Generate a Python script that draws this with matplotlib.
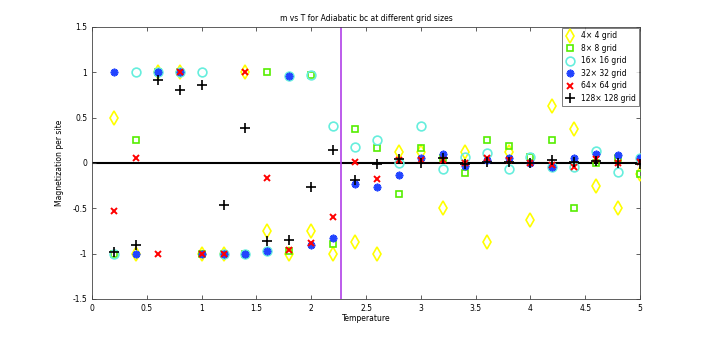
import numpy as np
import matplotlib
matplotlib.use("Agg")
from matplotlib import pyplot as plt

# temperatures 0.2 .. 5.0
T = [0.2, 0.4, 0.6, 0.8, 1.0, 1.2, 1.4, 1.6, 1.8, 2.0, 2.2, 2.4, 2.6,
     2.8, 3.0, 3.2, 3.4, 3.6, 3.8, 4.0, 4.2, 4.4, 4.6, 4.8, 5.0]

m4 = [0.5, -1, 1, 1, -1, -1, 1, -0.75, -1, -0.75, -1, -0.875, -1,
      0.125, 0.125, -0.5, 0.125, -0.875, 0.125, -0.625, 0.625, 0.375, -0.25, -0.5, -0.125]
m8 = [-1, 0.25, 1, 1, -1, -1, -1, 1, -0.97, 0.97, -0.89, 0.375, 0.16,
      -0.34, 0.16, 0.06, -0.11, 0.25, 0.19, 0.07, 0.25, -0.5, 0.0, 0.05, -0.12]
m16 = [-1, 1, 1, 1, 1, -1, -1, -0.97, 0.96, 0.97, 0.41, 0.18, 0.25,
       0.0, 0.41, -0.07, 0.07, 0.11, -0.07, 0.07, -0.04, -0.05, 0.13, -0.1, 0.05]
m32 = [1, -1, 1, 1, -1, -1, -1, -0.97, 0.96, -0.91, -0.83, -0.23, -0.26,
       -0.135, 0.06, 0.1, -0.03, 0.03, 0.05, 0.0, -0.05, 0.05, 0.1, 0.085, 0.05]
m64 = [-0.53, 0.06, -1, 1, -1, -1, 1, -0.17, -0.96, -0.88, -0.6, 0.01, -0.18,
       0.03, 0.03, 0.03, 0.0, 0.05, 0.03, 0.0, -0.02, -0.04, 0.04, 0.0, 0.01]
m128 = [-0.98, -0.9, 0.91, 0.8, 0.86, -0.46, 0.38, -0.86, -0.85, -0.26, 0.14, -0.19, -0.01,
        0.04, 0.0, 0.05, -0.01, 0.01, 0.01, 0.0, 0.03, 0.01, 0.02, 0.0, -0.01]

Tc = 2.269

fig = plt.figure(figsize=(7.08, 3.38), dpi=100)
ax = fig.add_axes([0.130, 0.1154, 0.774, 0.805])

ax.plot([0, 5], [0, 0], color="black", lw=1.5, zorder=1)
ax.plot([Tc, Tc], [-1.5, 1.5], color="#b040e8", lw=1.2, zorder=1)

ax.plot(T, m4, "d", mfc="none", mec="#ffff00", mew=1.2, ms=7, label=u"4\u00d7 4 grid", zorder=3)
ax.plot(T, m8, "s", mfc="none", mec="#55ee00", mew=1.2, ms=4.8, label=u"8\u00d7 8 grid", zorder=3)
ax.plot(T, m16, "o", mfc="none", mec="#66eedd", mew=1.2, ms=6.3, label=u"16\u00d7 16 grid", zorder=3)
# matlab style asterisk
ax.plot(T, m32, marker=(8, 2, 0), ls="none", color="#2244ff", mew=1.3, ms=5.5,
        label=u"32\u00d7 32 grid", zorder=4)
ax.plot(T, m64, "x", color="#ff0000", mew=1.4, ms=4, label=u"64\u00d7 64 grid", zorder=5)
ax.plot(T, m128, "+", color="black", mew=1.2, ms=6.5, label=u"128\u00d7 128 grid", zorder=6)

ax.set_xlim(0, 5)
ax.set_ylim(-1.5, 1.5)
ax.set_xticks(np.arange(0, 5.01, 0.5))
ax.set_xticklabels(["0", "0.5", "1", "1.5", "2", "2.5", "3", "3.5", "4", "4.5", "5"])
ax.set_yticks(np.arange(-1.5, 1.51, 0.5))
ax.set_yticklabels(["-1.5", "-1", "-0.5", "0", "0.5", "1", "1.5"])
ax.tick_params(direction="in", top=True, right=True, labelsize=5.5, length=3, width=0.6, color="#444444")
for s in ax.spines.values():
    s.set_linewidth(0.6)
    s.set_color("#444444")

ax.set_title("m vs T for Adiabatic bc at different grid sizes", fontsize=5.5, pad=4)
ax.set_xlabel("Temperature", fontsize=5.5, labelpad=1)
ax.set_ylabel("Magnetization per site", fontsize=5.5, labelpad=6)

leg = ax.legend(loc="upper right", fontsize=5.5, frameon=True, fancybox=False,
                borderaxespad=0.2, handletextpad=0.8, labelspacing=0.45, borderpad=0.4,
                handlelength=1.2)
leg.get_frame().set_edgecolor("#444444")
leg.get_frame().set_linewidth(0.6)

fig.savefig("out.png", dpi=100)
